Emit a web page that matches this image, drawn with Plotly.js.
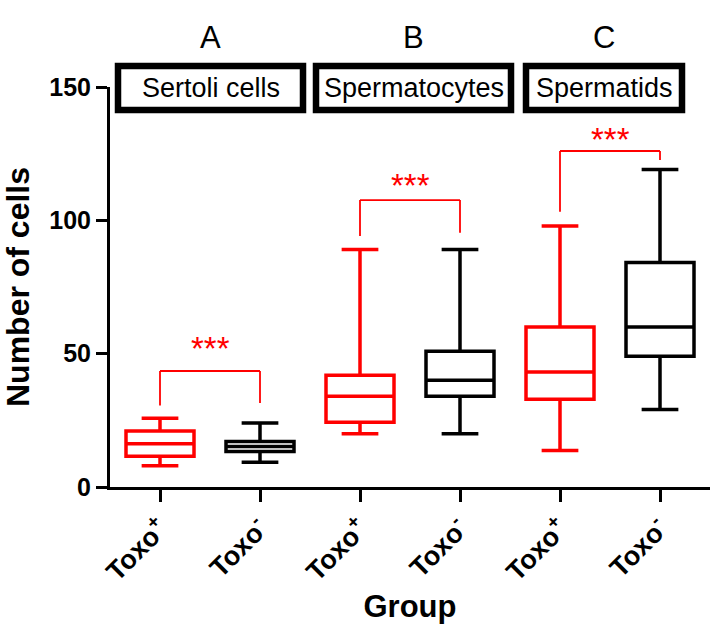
<!DOCTYPE html>
<html>
<head>
<meta charset="utf-8">
<script src="https://cdn.plot.ly/plotly-3.0.1.min.js"></script>
<style>html,body{margin:0;padding:0;background:#fff;}#chart{width:717px;height:639px;}</style>
</head>
<body>
<div id="chart"></div>
<script>
// ---- data ----
const tickLabels = ["Toxo<sup>+</sup>", "Toxo<sup>-</sup>", "Toxo<sup>+</sup>", "Toxo<sup>-</sup>", "Toxo<sup>+</sup>", "Toxo<sup>-</sup>"];
const panelLetters = ["A", "B", "C"];
const panelNames = ["Sertoli cells", "Spermatocytes", "Spermatids"];

// Toxo+ (red) boxes: Sertoli, Spermatocytes, Spermatids
const posMin    = [8.0, 20.0, 13.7];
const posQ1     = [11.5, 24.3, 32.9];
const posMedian = [16.2, 34.0, 43.1];
const posQ3     = [21.0, 41.9, 60.0];
const posMax    = [25.8, 89.1, 97.9];

// Toxo- (black) boxes
const negMin    = [9.3, 20.0, 29.1];
const negQ1     = [13.3, 34.0, 49.0];
const negMedian = [15.2, 40.0, 60.0];
const negQ3     = [17.1, 50.9, 84.2];
const negMax    = [24.0, 89.1, 119.1];

// significance brackets (y values)
const bracketTop   = [43.5, 107.6, 126.0];
const bracketLeft  = [30.6, 94.1, 103.2];
const bracketRight = [31.5, 95.3, 122.6];
const starY        = [54.4, 115.8, 133.1];
const sigText = ["***", "***", "***"];

// ---- build ----
const posX = [0, 2, 4];
const negX = [1, 3, 5];
const FONT = "Liberation Sans, Arial, Helvetica, sans-serif";
const RED = "#ff0000";

const traces = [
  {
    type: "box", x: posX, q1: posQ1, median: posMedian, q3: posQ3,
    lowerfence: posMin, upperfence: posMax,
    line: {color: RED, width: 3.5}, fillcolor: "rgba(255,255,255,0)",
    width: 0.68, whiskerwidth: 0.54, boxpoints: false, hoverinfo: "skip", showlegend: false
  },
  {
    type: "box", x: negX, q1: negQ1, median: negMedian, q3: negQ3,
    lowerfence: negMin, upperfence: negMax,
    line: {color: "#000000", width: 3.5}, fillcolor: "rgba(255,255,255,0)",
    width: 0.68, whiskerwidth: 0.54, boxpoints: false, hoverinfo: "skip", showlegend: false
  }
];

const shapes = [];
const annotations = [];
const stripX = [[-0.42, 1.43], [1.56, 3.51], [3.66, 5.22]];
for (let i = 0; i < 3; i++) {
  const xl = posX[i], xr = negX[i];
  shapes.push({type: "line", xref: "x", yref: "y", x0: xl, x1: xl, y0: bracketLeft[i], y1: bracketTop[i], line: {color: RED, width: 1.8}});
  shapes.push({type: "line", xref: "x", yref: "y", x0: xl, x1: xr, y0: bracketTop[i], y1: bracketTop[i], line: {color: RED, width: 1.8}});
  shapes.push({type: "line", xref: "x", yref: "y", x0: xr, x1: xr, y0: bracketRight[i], y1: bracketTop[i], line: {color: RED, width: 1.8}});
  annotations.push({xref: "x", yref: "y", x: (xl + xr) / 2, y: starY[i], yanchor: "middle", yshift: -7, text: sigText[i], showarrow: false, font: {family: FONT, size: 33, color: RED}});
  // strip boxes
  shapes.push({type: "rect", xref: "x", yref: "paper", x0: stripX[i][0], x1: stripX[i][1], y0: 0.9425, y1: 1.0525, line: {color: "#000", width: 6.5}, fillcolor: "#fff"});
  const cx = (stripX[i][0] + stripX[i][1]) / 2;
  annotations.push({xref: "x", yref: "paper", x: cx, y: 0.998, yanchor: "middle", text: panelNames[i], showarrow: false, font: {family: FONT, size: 27, color: "#000"}});
  annotations.push({xref: "x", yref: "paper", x: cx, y: 1.125, yanchor: "middle", text: panelLetters[i], showarrow: false, font: {family: FONT, size: 31, color: "#000"}});
}

const layout = {
  width: 717, height: 639,
  margin: {l: 110, r: 7, t: 87, b: 152, autoexpand: false},
  paper_bgcolor: "#fff", plot_bgcolor: "#fff",
  showlegend: false,
  boxmode: "overlay",
  font: {family: FONT, color: "#000"},
  xaxis: {
    range: [-0.5, 5.5], tickvals: [0, 1, 2, 3, 4, 5], ticktext: tickLabels,
    tickangle: -45, ticks: "outside", ticklen: 12, tickwidth: 3, tickcolor: "#000",
    showline: true, linewidth: 3, linecolor: "#000", showgrid: false, zeroline: false,
    tickfont: {family: FONT, size: 27, color: "#000", weight: "bold"},
    title: {text: "<b>Group</b>", font: {family: FONT, size: 31, color: "#000"}, standoff: 10},
    automargin: false
  },
  yaxis: {
    range: [0, 150], tickvals: [0, 50, 100, 150],
    ticks: "outside", ticklen: 11, tickwidth: 3, tickcolor: "#000",
    showline: true, linewidth: 3, linecolor: "#000", showgrid: false, zeroline: false,
    tickfont: {family: FONT, size: 25, color: "#000", weight: "bold"},
    title: {text: "<b>Number of cells</b>", font: {family: FONT, size: 32, color: "#000"}, standoff: 12},
    automargin: false
  },
  shapes: shapes,
  annotations: annotations
};

Plotly.newPlot("chart", traces, layout, {staticPlot: true, displayModeBar: false});
</script>
</body>
</html>
